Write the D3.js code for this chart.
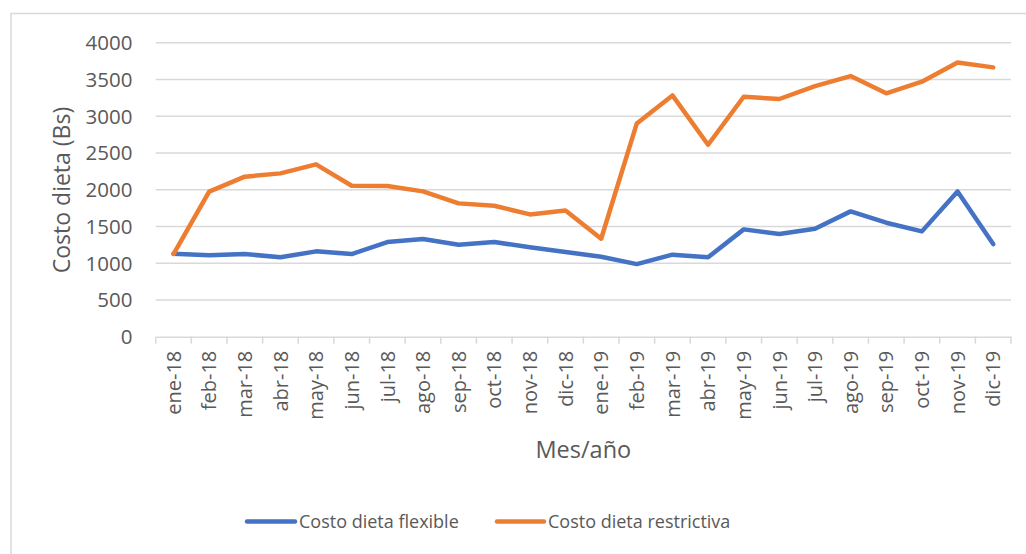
<!DOCTYPE html>
<html>
<head>
<meta charset="utf-8">
<script src="https://cdn.jsdelivr.net/npm/d3@7"></script>
<style>
  html, body { margin: 0; padding: 0; background: #fff; }
  svg { display: block; }
  text { font-family: "Open Sans", sans-serif; fill: #595959; }
</style>
</head>
<body>
<svg id="chart" width="1026" height="554"></svg>
<script>
const categories = ["ene-18","feb-18","mar-18","abr-18","may-18","jun-18","jul-18","ago-18","sep-18","oct-18","nov-18","dic-18",
                    "ene-19","feb-19","mar-19","abr-19","may-19","jun-19","jul-19","ago-19","sep-19","oct-19","nov-19","dic-19"];
const flexible = [1130,1107,1125,1080,1161,1125,1288,1329,1252,1288,1216,1152,
                  1088,988,1116,1080,1460,1397,1469,1705,1551,1433,1977,1261];
const restrictiva = [1125,1973,2177,2222,2345,2054,2050,1977,1814,1782,1664,1718,
                     1333,2902,3283,2612,3265,3234,3410,3546,3311,3469,3732,3664];
const yTicks = [0,500,1000,1500,2000,2500,3000,3500,4000];
const seriesNames = ["Costo dieta flexible","Costo dieta restrictiva"];
const colors = ["#4472C4","#ED7D31"];

(function draw() {
const svg = d3.select("#chart");

// outer chart border
svg.append("rect")
  .attr("x", 11).attr("y", 13.5).attr("width", 1030).attr("height", 560)
  .attr("fill", "#fff").attr("stroke", "#d9d9d9").attr("stroke-width", 1.5);

const pLeft = 155.7, pRight = 1011, pTop = 42.7, pBottom = 336.7;
const x = d3.scaleBand().domain(categories).range([pLeft, pRight]).padding(0);
const y = d3.scaleLinear().domain([0, 4000]).range([pBottom, pTop]);
const cx = c => x(c) + x.bandwidth() / 2;

// gridlines
svg.append("g").selectAll("line").data(yTicks.filter(d => d > 0)).join("line")
  .attr("x1", pLeft).attr("x2", pRight)
  .attr("y1", d => y(d)).attr("y2", d => y(d))
  .attr("stroke", "#d9d9d9").attr("stroke-width", 1.5);

// y axis labels
svg.append("g").selectAll("text").data(yTicks).join("text")
  .attr("x", 132.5).attr("y", d => y(d)).attr("dy", "0.36em")
  .attr("text-anchor", "end").style("font-size", "20.5px")
  .text(d => d);

// x axis
const xAxis = d3.axisBottom(x).tickSize(0).tickFormat("");
const gx = svg.append("g").attr("transform", `translate(0,${pBottom})`).call(xAxis);
gx.select(".domain").attr("stroke", "#d9d9d9").attr("stroke-width", 1.5);
// tick marks at band boundaries
const bounds = categories.map(c => x(c)).concat([pRight]);
svg.append("g").selectAll("line").data(bounds).join("line")
  .attr("x1", d => d).attr("x2", d => d)
  .attr("y1", pBottom).attr("y2", pBottom + 7)
  .attr("stroke", "#d9d9d9").attr("stroke-width", 1.5);

// x tick labels rotated
svg.append("g").selectAll("text").data(categories).join("text")
  .attr("transform", c => `translate(${cx(c)},${pBottom + 14}) rotate(-90)`)
  .attr("dy", "0.36em").attr("text-anchor", "end")
  .style("font-size", "20px")
  .text(c => c);

// axis titles
svg.append("text")
  .attr("transform", `translate(62,190) rotate(-90)`)
  .attr("text-anchor", "middle").attr("dy", "0.36em")
  .style("font-size", "23px")
  .text("Costo dieta (Bs)");

svg.append("text")
  .attr("x", (pLeft + pRight) / 2).attr("y", 458)
  .attr("text-anchor", "middle")
  .style("font-size", "23.5px")
  .text("Mes/año");

// lines
const line = d3.line().x((d, i) => cx(categories[i])).y(d => y(d));
[flexible, restrictiva].forEach((s, k) => {
  svg.append("path").datum(s)
    .attr("d", line)
    .attr("fill", "none")
    .attr("stroke", colors[k])
    .attr("stroke-width", 4.5)
    .attr("stroke-linejoin", "round")
    .attr("stroke-linecap", "round");
});

// legend
const legendItems = [
  { name: seriesNames[0], color: colors[0], x1: 247, x2: 295, tx: 299 },
  { name: seriesNames[1], color: colors[1], x1: 497, x2: 544, tx: 548 }
];
const lg = svg.append("g");
legendItems.forEach(it => {
  lg.append("line").attr("x1", it.x1).attr("x2", it.x2).attr("y1", 521.5).attr("y2", 521.5)
    .attr("stroke", it.color).attr("stroke-width", 4.5).attr("stroke-linecap", "round");
  lg.append("text").attr("x", it.tx).attr("y", 521.5).attr("dy", "0.36em")
    .style("font-size", "18px").text(it.name);
});
})();
</script>
</body>
</html>
